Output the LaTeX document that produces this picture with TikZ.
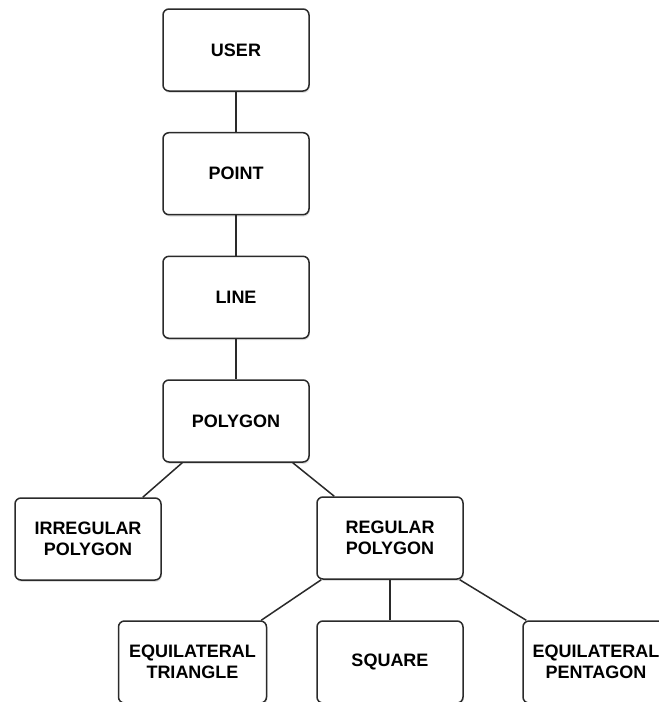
\documentclass[tikz,border=0pt]{standalone}
\usepackage{fontspec}
\setmainfont{Liberation Sans}
\usetikzlibrary{calc,shadows}
\definecolor{edgegray}{HTML}{2A2A2A}
\tikzset{
  box/.style={draw=edgegray, line width=1.5pt, fill=white, rounded corners=6pt,
    minimum width=146pt, minimum height=82pt, inner sep=2pt, align=center,
    font=\fontsize{18}{21}\selectfont\bfseries,
    drop shadow={shadow xshift=0.8pt, shadow yshift=-1.8pt, opacity=0.25}},
  conn/.style={draw=edgegray, line width=1.5pt}
}
\begin{document}
\begin{tikzpicture}[x=1pt,y=-1pt]
\useasboundingbox (0,0) rectangle (659,702);
\fill[white] (0,0) rectangle (659,702);
\node[box] (user) at (236,50) {USER};
\node[box] (point) at (236,173.7) {POINT};
\node[box] (line) at (236,297.3) {LINE};
\node[box] (poly) at (236,421) {POLYGON};
\node[box] (irr) at (88,539) {IRREGULAR\\POLYGON};
\node[box] (reg) at (390,538) {REGULAR\\POLYGON};
\node[box, minimum width=148pt] (tri) at (192.5,662) {EQUILATERAL\\TRIANGLE};
\node[box] (sq) at (390,662) {SQUARE};
\node[box] (pent) at (596,662) {EQUILATERAL\\PENTAGON};
\draw[conn] (user.south) -- (point.north);
\draw[conn] (point.south) -- (line.north);
\draw[conn] (line.south) -- (poly.north);
\draw[conn] ($(poly.south west)+(20,0)$) -- ($(irr.north east)+(-19,0)$);
\draw[conn] ($(poly.south east)+(-17,0)$) -- ($(reg.north west)+(18,0)$);
\draw[conn] ($(reg.south west)+(5,0)$) -- ($(tri.north east)+(-6,0)$);
\draw[conn] (reg.south) -- (sq.north);
\draw[conn] ($(reg.south east)+(-4,0)$) -- ($(pent.north west)+(4,0)$);
\end{tikzpicture}
\end{document}
